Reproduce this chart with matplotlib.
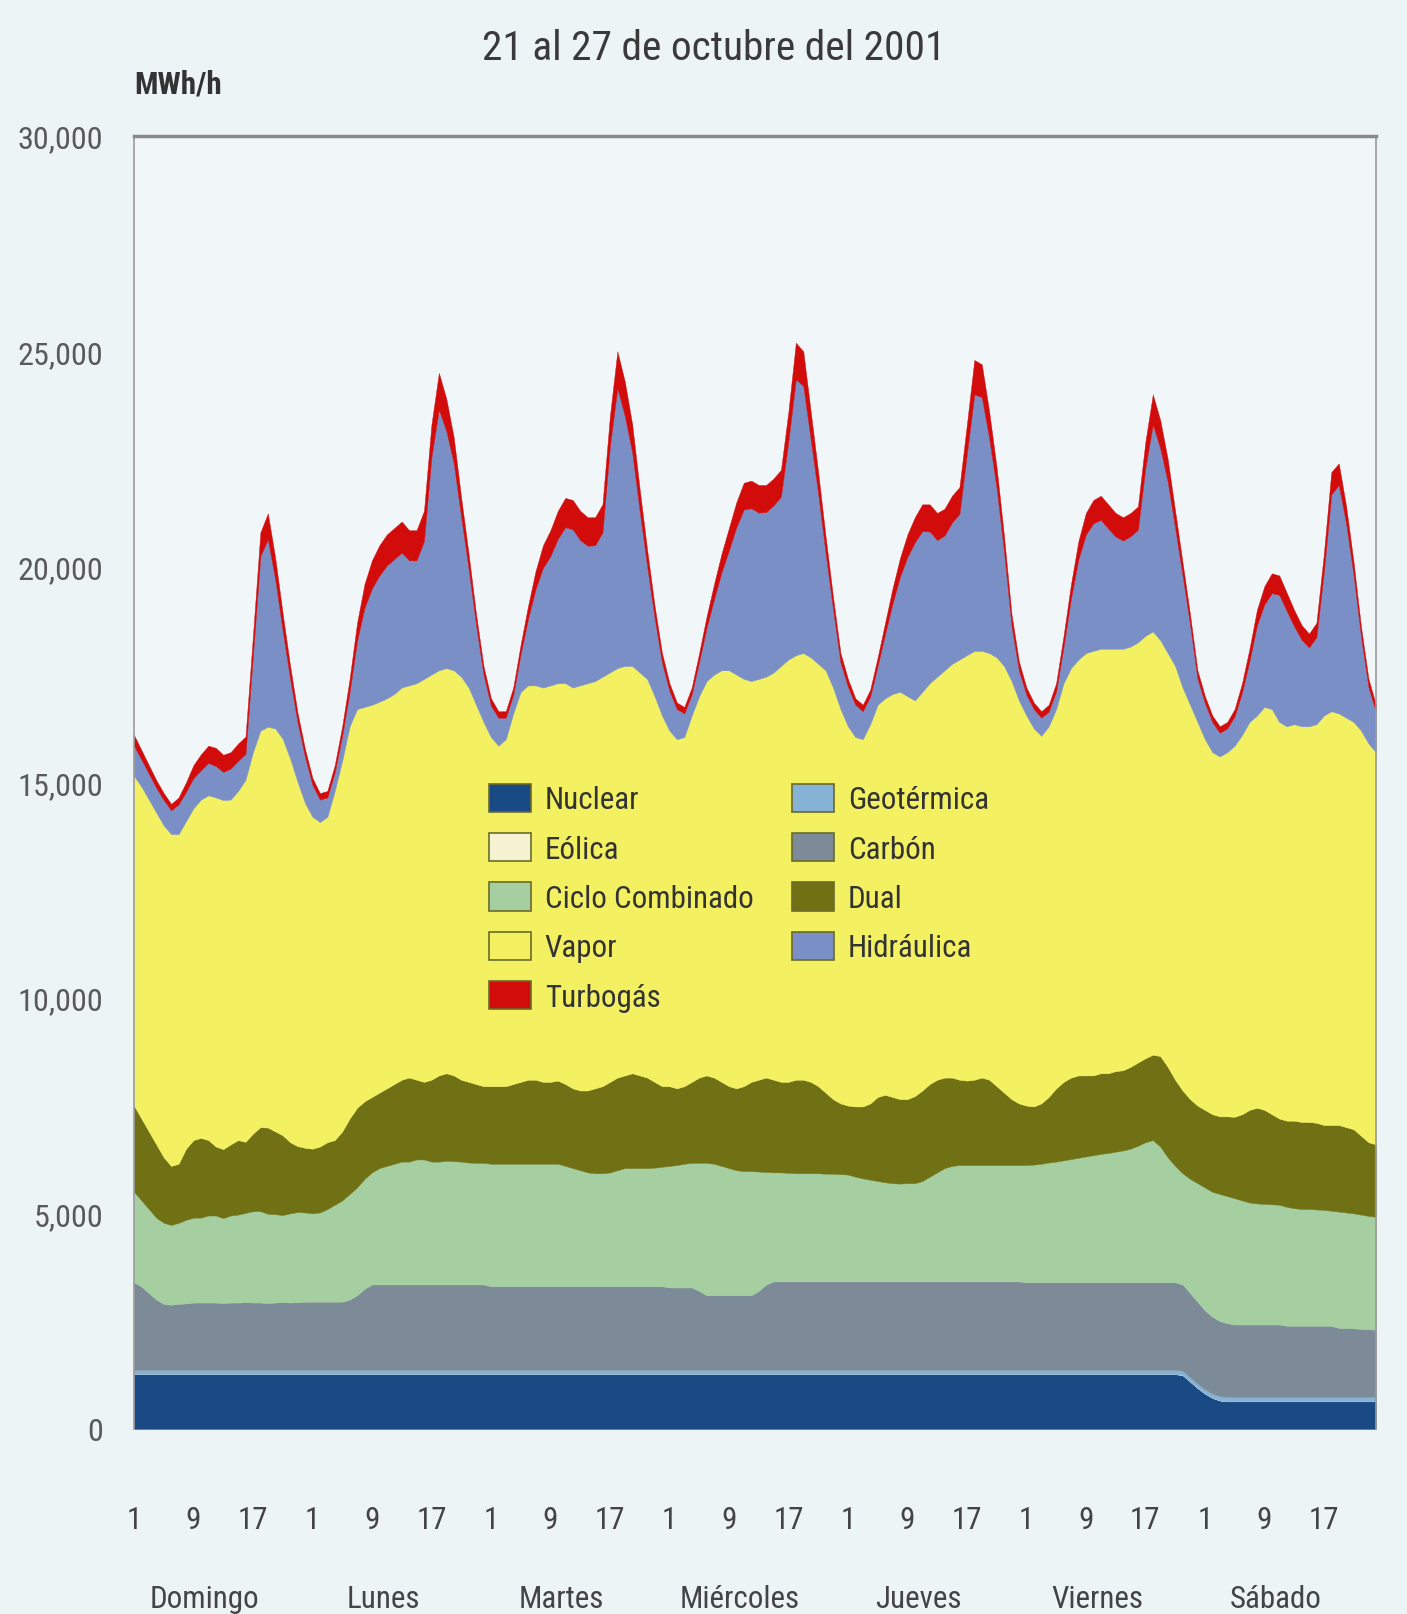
import matplotlib
matplotlib.use("Agg")
import matplotlib.pyplot as plt
from matplotlib import font_manager as fm
from matplotlib.patches import Patch
import numpy as np

# hourly generation (MWh/h), 21-27 Oct 2001, one row per day (Dom..Sab)
hours = np.arange(1, 169)

nuclear = [
    1270, 1270, 1270, 1270, 1270, 1270, 1270, 1270, 1270, 1270, 1270, 1270, 1270, 1270, 1270, 1270, 1270, 1270, 1270, 1270, 1270, 1270, 1270, 1270,
    1270, 1270, 1270, 1270, 1270, 1270, 1270, 1270, 1270, 1270, 1270, 1270, 1270, 1270, 1270, 1270, 1270, 1270, 1270, 1270, 1270, 1270, 1270, 1270,
    1270, 1270, 1270, 1270, 1270, 1270, 1270, 1270, 1270, 1270, 1270, 1270, 1270, 1270, 1270, 1270, 1270, 1270, 1270, 1270, 1270, 1270, 1270, 1270,
    1270, 1270, 1270, 1270, 1270, 1270, 1270, 1270, 1270, 1270, 1270, 1270, 1270, 1270, 1270, 1270, 1270, 1270, 1270, 1270, 1270, 1270, 1270, 1270,
    1270, 1270, 1270, 1270, 1270, 1270, 1270, 1270, 1270, 1270, 1270, 1270, 1270, 1270, 1270, 1270, 1270, 1270, 1270, 1270, 1270, 1270, 1270, 1270,
    1270, 1270, 1270, 1270, 1270, 1270, 1270, 1270, 1270, 1270, 1270, 1270, 1270, 1270, 1270, 1270, 1270, 1270, 1270, 1270, 1270, 1250, 1100, 950,
    820, 720, 660, 640, 640, 640, 640, 640, 640, 640, 640, 640, 640, 640, 640, 640, 640, 640, 640, 640, 640, 640, 640, 640,
]

eolica = [
    2, 2, 2, 2, 2, 2, 2, 2, 2, 2, 2, 2, 2, 2, 2, 2, 2, 2, 2, 2, 2, 2, 2, 2,
    2, 2, 2, 2, 2, 2, 2, 2, 2, 2, 2, 2, 2, 2, 2, 2, 2, 2, 2, 2, 2, 2, 2, 2,
    2, 2, 2, 2, 2, 2, 2, 2, 2, 2, 2, 2, 2, 2, 2, 2, 2, 2, 2, 2, 2, 2, 2, 2,
    2, 2, 2, 2, 2, 2, 2, 2, 2, 2, 2, 2, 2, 2, 2, 2, 2, 2, 2, 2, 2, 2, 2, 2,
    2, 2, 2, 2, 2, 2, 2, 2, 2, 2, 2, 2, 2, 2, 2, 2, 2, 2, 2, 2, 2, 2, 2, 2,
    2, 2, 2, 2, 2, 2, 2, 2, 2, 2, 2, 2, 2, 2, 2, 2, 2, 2, 2, 2, 2, 2, 2, 2,
    2, 2, 2, 2, 2, 2, 2, 2, 2, 2, 2, 2, 2, 2, 2, 2, 2, 2, 2, 2, 2, 2, 2, 2,
]

geotermica = [
    100, 100, 100, 100, 100, 100, 100, 100, 100, 100, 100, 100, 100, 100, 100, 100, 100, 100, 100, 100, 100, 100, 100, 100,
    100, 100, 100, 100, 100, 100, 100, 100, 100, 100, 100, 100, 100, 100, 100, 100, 100, 100, 100, 100, 100, 100, 100, 100,
    100, 100, 100, 100, 100, 100, 100, 100, 100, 100, 100, 100, 100, 100, 100, 100, 100, 100, 100, 100, 100, 100, 100, 100,
    100, 100, 100, 100, 100, 100, 100, 100, 100, 100, 100, 100, 100, 100, 100, 100, 100, 100, 100, 100, 100, 100, 100, 100,
    100, 100, 100, 100, 100, 100, 100, 100, 100, 100, 100, 100, 100, 100, 100, 100, 100, 100, 100, 100, 100, 100, 100, 100,
    100, 100, 100, 100, 100, 100, 100, 100, 100, 100, 100, 100, 100, 100, 100, 100, 100, 100, 100, 100, 100, 100, 100, 100,
    100, 100, 100, 100, 100, 100, 100, 100, 100, 100, 100, 100, 100, 100, 100, 100, 100, 100, 100, 100, 100, 100, 100, 100,
]

carbon = [
    2030, 1930, 1780, 1630, 1530, 1510, 1530, 1540, 1560, 1560, 1560, 1560, 1550, 1560, 1560, 1570, 1560, 1560, 1550, 1560, 1570, 1560, 1570, 1580,
    1580, 1580, 1580, 1580, 1580, 1630, 1730, 1880, 1980, 1980, 1980, 1980, 1980, 1980, 1980, 1980, 1980, 1980, 1980, 1980, 1980, 1980, 1980, 1980,
    1940, 1940, 1940, 1940, 1940, 1940, 1940, 1940, 1940, 1940, 1940, 1940, 1940, 1940, 1940, 1940, 1940, 1940, 1940, 1940, 1940, 1940, 1940, 1940,
    1910, 1910, 1910, 1910, 1830, 1730, 1730, 1730, 1730, 1730, 1730, 1730, 1830, 1980, 2050, 2050, 2050, 2050, 2050, 2050, 2050, 2050, 2050, 2050,
    2050, 2050, 2050, 2050, 2050, 2050, 2050, 2050, 2050, 2050, 2050, 2050, 2050, 2050, 2050, 2050, 2050, 2050, 2050, 2050, 2050, 2050, 2050, 2050,
    2030, 2030, 2030, 2030, 2030, 2030, 2030, 2030, 2030, 2030, 2030, 2030, 2030, 2030, 2030, 2030, 2030, 2030, 2030, 2030, 2030, 2000, 1950, 1900,
    1830, 1780, 1740, 1710, 1680, 1680, 1680, 1680, 1680, 1680, 1680, 1650, 1650, 1650, 1650, 1650, 1650, 1650, 1600, 1600, 1590, 1580, 1570, 1560,
]

ciclo = [
    2100, 2000, 1950, 1900, 1880, 1850, 1880, 1940, 1970, 1970, 2020, 2020, 1970, 2020, 2040, 2070, 2120, 2120, 2070, 2050, 2020, 2070, 2090, 2070,
    2050, 2070, 2150, 2250, 2350, 2450, 2500, 2550, 2600, 2700, 2750, 2800, 2850, 2850, 2900, 2900, 2850, 2850, 2870, 2860, 2850, 2830, 2820, 2820,
    2840, 2840, 2840, 2840, 2840, 2840, 2840, 2840, 2840, 2840, 2790, 2740, 2690, 2640, 2620, 2620, 2640, 2690, 2740, 2740, 2740, 2740, 2750, 2770,
    2820, 2840, 2870, 2890, 2970, 3070, 3050, 3000, 2950, 2900, 2880, 2880, 2770, 2610, 2530, 2530, 2520, 2510, 2510, 2510, 2510, 2500, 2500, 2490,
    2480, 2430, 2390, 2360, 2330, 2300, 2280, 2270, 2280, 2280, 2330, 2430, 2530, 2630, 2680, 2700, 2700, 2700, 2700, 2700, 2700, 2700, 2700, 2700,
    2720, 2730, 2750, 2780, 2800, 2830, 2860, 2890, 2920, 2950, 2980, 3000, 3030, 3060, 3100, 3170, 3250, 3300, 3150, 2900, 2700, 2580, 2650, 2750,
    2850, 2900, 2950, 2950, 2930, 2880, 2830, 2810, 2800, 2790, 2780, 2760, 2730, 2710, 2710, 2700, 2690, 2670, 2700, 2680, 2670, 2650, 2630, 2620,
]

dual = [
    2000, 1900, 1800, 1700, 1520, 1370, 1370, 1650, 1800, 1850, 1750, 1600, 1600, 1650, 1730, 1650, 1800, 1950, 2000, 1920, 1850, 1650, 1530, 1500,
    1500, 1530, 1550, 1500, 1600, 1750, 1850, 1800, 1750, 1750, 1800, 1850, 1900, 1950, 1850, 1800, 1900, 2000, 2030, 1990, 1900, 1870, 1830, 1780,
    1800, 1800, 1800, 1850, 1900, 1950, 1950, 1900, 1900, 1930, 1900, 1850, 1850, 1900, 1970, 2020, 2100, 2150, 2150, 2200, 2150, 2100, 1990, 1870,
    1850, 1780, 1800, 1880, 1980, 2030, 2000, 1950, 1900, 1900, 1970, 2070, 2130, 2190, 2150, 2100, 2110, 2170, 2170, 2120, 2020, 1880, 1730, 1640,
    1600, 1630, 1670, 1770, 1950, 2030, 2000, 1960, 1950, 2020, 2100, 2150, 2150, 2100, 2050, 1980, 1960, 1980, 2030, 1980, 1830, 1680, 1530, 1430,
    1380, 1350, 1400, 1520, 1700, 1820, 1890, 1910, 1880, 1850, 1870, 1850, 1870, 1860, 1900, 1930, 1950, 1980, 2100, 2100, 2000, 1920, 1850, 1800,
    1800, 1800, 1800, 1850, 1890, 2000, 2150, 2220, 2180, 2090, 2000, 2000, 2030, 2020, 2020, 2010, 1970, 1990, 2010, 1980, 1950, 1830, 1710, 1680,
]

vapor = [
    7650, 7700, 7700, 7700, 7700, 7700, 7650, 7600, 7700, 7850, 8000, 8100, 8100, 8000, 8100, 8400, 8850, 9200, 9300, 9350, 9200, 8900, 8450, 8000,
    7700, 7530, 7550, 8100, 8600, 9100, 9250, 9150, 9100, 9070, 9050, 9050, 9100, 9100, 9200, 9350, 9400, 9400, 9400, 9400, 9350, 9150, 8800, 8450,
    8100, 7900, 8050, 8600, 9050, 9150, 9150, 9150, 9200, 9220, 9300, 9300, 9400, 9450, 9450, 9500, 9500, 9500, 9500, 9450, 9350, 9250, 8950, 8600,
    8250, 8100, 8100, 8500, 8850, 9150, 9350, 9550, 9650, 9600, 9450, 9300, 9300, 9300, 9450, 9650, 9800, 9850, 9900, 9850, 9800, 9800, 9550, 9150,
    8800, 8570, 8520, 8800, 9100, 9200, 9350, 9450, 9350, 9180, 9250, 9300, 9350, 9450, 9600, 9750, 9870, 9950, 9900, 9900, 9950, 9900, 9700, 9350,
    9050, 8770, 8530, 8600, 8800, 9250, 9500, 9650, 9800, 9850, 9850, 9850, 9800, 9780, 9750, 9750, 9800, 9820, 9650, 9600, 9600, 9350, 9150, 8900,
    8600, 8400, 8350, 8450, 8610, 8800, 9000, 9100, 9350, 9400, 9200, 9150, 9200, 9180, 9180, 9250, 9500, 9600, 9550, 9500, 9450, 9400, 9250, 9100,
]

hidraulica = [
    700, 630, 600, 570, 590, 550, 690, 680, 700, 680, 750, 730, 650, 720, 700, 600, 2250, 4050, 4350, 3450, 2500, 1850, 1380, 1070,
    740, 520, 450, 430, 580, 800, 1580, 2300, 2700, 2930, 3080, 3130, 3130, 2900, 2850, 3200, 5050, 6050, 5500, 4800, 3700, 2750, 1850, 1100,
    730, 650, 500, 430, 880, 1550, 2230, 2780, 3000, 3350, 3620, 3670, 3370, 3190, 3150, 3350, 5250, 6500, 5800, 4950, 3750, 2620, 1820, 1230,
    920, 700, 550, 490, 800, 1240, 1750, 2270, 2780, 3420, 3930, 4010, 3860, 3820, 3880, 3930, 5070, 6400, 6200, 5050, 3950, 2720, 1820, 1080,
    920, 750, 650, 640, 900, 1490, 2100, 2670, 3230, 3670, 3730, 3520, 3170, 3130, 3280, 3380, 4670, 5950, 5890, 4980, 3920, 2640, 1280, 690,
    480, 450, 420, 340, 410, 850, 1620, 2330, 2750, 2960, 2990, 2790, 2600, 2510, 2560, 2610, 3900, 4800, 4450, 3980, 3200, 2600, 1870, 1010,
    840, 700, 550, 550, 680, 990, 1420, 2090, 2380, 2690, 2950, 2680, 2270, 2010, 1830, 2020, 3330, 5030, 5300, 4500, 3400, 2170, 1310, 930,
]

turbogas = [
    250, 220, 200, 180, 160, 150, 160, 220, 300, 370, 400, 420, 400, 380, 400, 400, 450, 550, 600, 500, 400, 300, 220, 180,
    160, 150, 150, 170, 220, 300, 420, 550, 650, 700, 720, 720, 720, 700, 700, 700, 750, 850, 750, 600, 450, 350, 250, 200,
    170, 150, 150, 170, 220, 300, 420, 520, 600, 650, 680, 680, 680, 660, 650, 650, 700, 850, 800, 650, 500, 380, 280, 220,
    180, 150, 150, 160, 200, 260, 350, 430, 520, 580, 620, 640, 640, 630, 620, 620, 680, 850, 800, 650, 500, 380, 280, 220,
    180, 150, 150, 160, 200, 260, 350, 430, 520, 580, 620, 630, 630, 620, 620, 620, 680, 800, 760, 620, 480, 360, 270, 210,
    170, 150, 150, 160, 190, 250, 330, 420, 500, 540, 560, 560, 550, 540, 540, 540, 600, 700, 650, 520, 400, 300, 230, 190,
    160, 150, 150, 150, 170, 210, 280, 360, 420, 460, 450, 420, 380, 340, 320, 330, 420, 520, 500, 400, 300, 230, 190, 170,
]

dias = ["Domingo", "Lunes", "Martes", "Miércoles", "Jueves", "Viernes", "Sábado"]
horas_lbl = ["1", "9", "17"]
y_ticks = [0, 5000, 10000, 15000, 20000, 25000, 30000]
y_labels = ["0", "5,000", "10,000", "15,000", "20,000", "25,000", "30,000"]

colors = {
    "Nuclear": "#1a4a84",
    "Eólica": "#f6f3d2",
    "Geotérmica": "#86b2d6",
    "Carbón": "#7d8b98",
    "Ciclo Combinado": "#a6cfa1",
    "Dual": "#6f7114",
    "Vapor": "#f3f062",
    "Hidráulica": "#7a8fc6",
    "Turbogás": "#d20b0b",
}

# pick the narrowest sans font that is installed
fonts = fm.fontManager.ttflist
names = {f.name for f in fonts}
stretch = "normal"
if "Liberation Sans Narrow" in names:
    base, k = "Liberation Sans Narrow", 1.0
elif "Roboto Condensed" in names:
    base, k = "Roboto Condensed", 0.93
elif any(f.name == "DejaVu Sans" and "condensed" in str(f.stretch) for f in fonts):
    base, k, stretch = "DejaVu Sans", 0.86, "condensed"
else:
    base, k = "Liberation Sans", 0.86
plt.rcParams["font.family"] = [base, "DejaVu Sans"]
plt.rcParams["font.stretch"] = stretch
fs = 24 * k

fig = plt.figure(figsize=(14.07, 16.15), dpi=100, facecolor="#edf4f6")
ax = fig.add_axes([0.0952, 0.1146, 0.8827, 0.8006])
ax.set_facecolor("#f1f7f9")

order = ["Nuclear", "Eólica", "Geotérmica", "Carbón", "Ciclo Combinado",
         "Dual", "Vapor", "Hidráulica", "Turbogás"]
series = [nuclear, eolica, geotermica, carbon, ciclo, dual, vapor, hidraulica, turbogas]
ax.stackplot(hours, *series, colors=[colors[c] for c in order],
             edgecolor="face", linewidth=0.3)

ax.set_xlim(1, 168)
ax.set_ylim(0, 30000)

ax.spines["bottom"].set_visible(False)
ax.spines["top"].set_color("#8a8a8a")
ax.spines["top"].set_linewidth(2.5)
for s in ["left", "right"]:
    ax.spines[s].set_color("#9a9a9a")
    ax.spines[s].set_linewidth(1.2)

ax.set_yticks(y_ticks)
ax.set_yticklabels(y_labels, fontsize=25 * k, color="#5a5a5a")
ax.tick_params(axis="y", length=0, pad=22)

xt = []
xl = []
for d in range(7):
    for h in horas_lbl:
        xt.append(24 * d + int(h))
        xl.append(h)
ax.set_xticks(xt)
ax.set_xticklabels(xl, fontsize=fs, color="#444444")
ax.tick_params(axis="x", length=0, pad=66 - 0.5 * fs)

for d, name in enumerate(dias):
    ax.text(24 * d + 10.5, -0.131, name, transform=ax.get_xaxis_transform(),
            ha="center", va="center", fontsize=fs, color="#444444")

fig.text(714 / 1407, 1 - 48 / 1615, "21 al 27 de octubre del 2001",
         fontsize=32 * k, ha="center", va="center", color="#3a3a3a")
fig.text(134 / 1407, 1 - 85 / 1615, "MWh/h", fontsize=24 * k, fontweight="bold",
         ha="left", va="center", color="#333333")

legend_order = ["Nuclear", "Eólica", "Ciclo Combinado", "Vapor", "Turbogás",
                "Geotérmica", "Carbón", "Dual", "Hidráulica"]
handles = [Patch(facecolor=colors[c], edgecolor="#6b6b2a", linewidth=1.2, label=c)
           for c in legend_order]
ax.legend(handles=handles, ncol=2, loc="upper left", bbox_to_anchor=(0.286, 0.499),
          frameon=False, fontsize=fs, handlelength=1.25 / k, handleheight=0.95 / k,
          handletextpad=0.45, columnspacing=1.25, labelspacing=0.56 / k,
          borderaxespad=0, borderpad=0, labelcolor="#333333")

fig.savefig("out.png", dpi=100, facecolor=fig.get_facecolor())
